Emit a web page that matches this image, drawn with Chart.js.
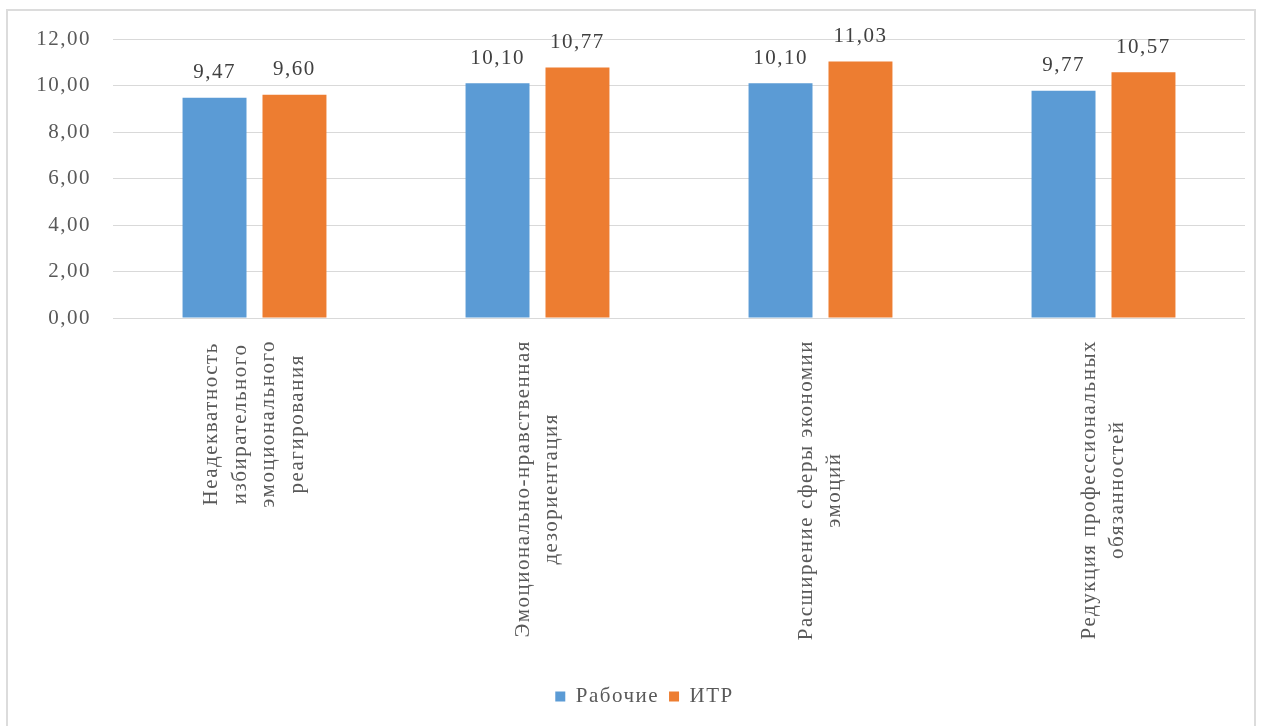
<!DOCTYPE html>
<html>
<head>
<meta charset="utf-8">
<script src="https://cdn.jsdelivr.net/npm/chart.js@4"></script>
<style>
  html, body { margin: 0; padding: 0; background: #fff; }
  #wrap { position: relative; width: 1262px; height: 726px; overflow: hidden; }
  #frame { position: absolute; left: 6px; top: 9px; width: 1250px; height: 740px; border: 2px solid #dcdcdc; box-sizing: border-box; }
  canvas { position: absolute; left: 0; top: 0; }
</style>
</head>
<body>
<div id="wrap">
  <div id="frame"></div>
  <canvas id="chart" width="1262" height="726"></canvas>
</div>
<script>
// категории (подписи по оси X, по строкам)
const categories = [
    ['Неадекватность', 'избирательного', 'эмоционального', 'реагирования'],
    ['Эмоционально-нравственная', 'дезориентация'],
    ['Расширение сферы экономии', 'эмоций'],
    ['Редукция профессиональных', 'обязанностей']
];
const seriesNames = ['Рабочие', 'ИТР'];
const workers = [9.47, 10.10, 10.10, 9.77];
const itr = [9.60, 10.77, 11.03, 10.57];
const yTicks = [0, 2, 4, 6, 8, 10, 12];

const FONT = '"Liberation Serif", "Times New Roman", serif';
const TEXT = '#595959';
const SIZE = 21;
const SPACING = '1.5px';

const fmt = v => v.toFixed(2).replace('.', ',');

// разрядка букв как в исходнике
const spacingPlugin = {
    id: 'spacing',
    beforeUpdate(chart) { chart.ctx.letterSpacing = SPACING; },
    beforeDraw(chart) { chart.ctx.letterSpacing = SPACING; },
    // легенда в оригинале чуть правее центра
    afterLayout(chart) {
        chart.legend.left += 22;
        chart.legend.right += 22;
    }
};

// подписи значений над столбцами
const valueLabels = {
    id: 'valueLabels',
    afterDatasetsDraw(chart) {
        const ctx = chart.ctx;
        ctx.save();
        ctx.letterSpacing = SPACING;
        ctx.font = SIZE + 'px ' + FONT;
        ctx.fillStyle = '#404040';
        ctx.textAlign = 'center';
        ctx.textBaseline = 'middle';
        chart.data.datasets.forEach((ds, i) => {
            chart.getDatasetMeta(i).data.forEach((bar, j) => {
                ctx.fillText(fmt(ds.data[j]), bar.x, bar.y - 25);
            });
        });
        ctx.restore();
    }
};

// вертикальные подписи категорий
const categoryLabels = {
    id: 'categoryLabels',
    afterDraw(chart) {
        const ctx = chart.ctx;
        const xs = chart.scales.x;
        const top = chart.chartArea.bottom + 22;
        const lineH = 28.5;
        ctx.save();
        ctx.letterSpacing = SPACING;
        ctx.font = SIZE + 'px ' + FONT;
        ctx.fillStyle = TEXT;
        ctx.textAlign = 'center';
        ctx.textBaseline = 'middle';
        categories.forEach((lines, i) => {
            const maxW = Math.max(...lines.map(l => ctx.measureText(l).width));
            ctx.save();
            ctx.translate(xs.getPixelForValue(i), top + maxW / 2);
            ctx.rotate(-Math.PI / 2);
            lines.forEach((l, k) => {
                ctx.fillText(l, 0, (k - (lines.length - 1) / 2) * lineH);
            });
            ctx.restore();
        });
        ctx.restore();
    }
};

const ctx = document.getElementById('chart').getContext('2d');
new Chart(ctx, {
    type: 'bar',
    data: {
        labels: categories.map(c => c.join(' ')),
        datasets: [
            {
                label: seriesNames[0],
                data: workers,
                backgroundColor: '#5B9BD5',
                categoryPercentage: 0.565,
                barPercentage: 0.8
            },
            {
                label: seriesNames[1],
                data: itr,
                backgroundColor: '#ED7D31',
                categoryPercentage: 0.565,
                barPercentage: 0.8
            }
        ]
    },
    options: {
        responsive: false,
        animation: false,
        layout: { padding: { top: 39, right: 17, bottom: 9, left: 0 } },
        scales: {
            x: {
                grid: { display: false },
                border: { display: false },
                ticks: { display: false },
                afterFit(scale) { scale.height = 358; }
            },
            y: {
                min: 0,
                max: 12,
                afterBuildTicks(scale) { scale.ticks = yTicks.map(v => ({ value: v })); },
                grid: { color: '#d9d9d9', lineWidth: 1, drawTicks: false },
                border: { display: false },
                ticks: {
                    color: TEXT,
                    font: { family: FONT, size: SIZE },
                    padding: 22,
                    callback: v => fmt(v)
                },
                afterFit(scale) { scale.width = 113; }
            }
        },
        plugins: {
            tooltip: { enabled: false },
            legend: {
                position: 'bottom',
                labels: {
                    color: TEXT,
                    font: { family: FONT, size: SIZE },
                    boxWidth: 10,
                    boxHeight: 10,
                    padding: 10
                }
            }
        }
    },
    plugins: [spacingPlugin, valueLabels, categoryLabels]
});
</script>
</body>
</html>
